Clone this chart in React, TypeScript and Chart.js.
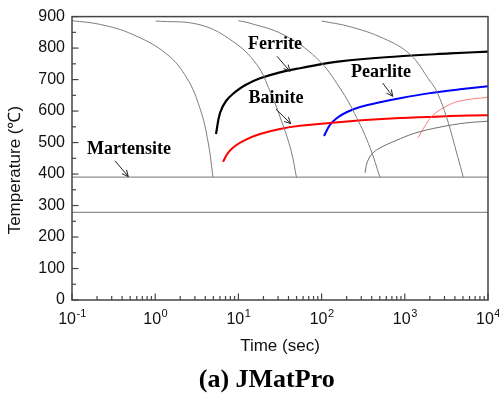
import React, { useEffect, useRef } from 'react';
import { Chart, registerables } from 'chart.js';

Chart.register(...registerables);

// ---- data (time in seconds, temperature in °C) ----
const cool1Time = [0.1, 0.22, 0.54, 1.39, 2.41, 3.45, 4.3, 4.95];
const cool1Temp = [887, 875, 843, 780, 704, 609, 505, 390];
const cool2Time = [1.01, 3.45, 8.6, 16.6, 24, 33, 43, 50];
const cool2Temp = [886, 874, 821, 748, 663, 568, 474, 388];
const cool3Time = [10, 13.8, 34.4, 87.3, 166, 264, 382, 503];
const cool3Temp = [887, 879, 843, 768, 673, 579, 484, 389];
const cool4Time = [100, 219, 552, 1156, 2011, 2416, 3191, 4355, 5050];
const cool4Temp = [886, 868, 831, 780, 695, 663, 579, 452, 389];

const ferriteTime = [5.38, 6.01, 7.1, 9.1, 12.0, 18.2, 31.6, 55, 166, 875, 3491, 10000];
const ferriteTemp = [527, 594, 632, 660, 682, 704, 723, 736, 758, 774, 783, 789];
const bainiteTime = [6.53, 7.5, 9.1, 12.0, 18.2, 31.6, 55, 219, 875, 3491, 10000];
const bainiteTemp = [439, 467, 489, 508, 527, 543, 553, 568, 578, 584, 587];
const pearliteTime = [107, 126, 153, 202, 290, 503, 875, 2011, 4603, 10000];
const pearliteTemp = [521, 556, 578, 597, 613, 628, 641, 657, 669, 679];
const pinkTime = [1442, 1750, 2124, 3041, 4603, 10000];
const pinkTemp = [515, 553, 584, 613, 632, 644];
const lowGrayTime = [333, 352, 404, 503, 762, 1327, 2649, 5297, 10000];
const lowGrayTemp = [404, 436, 464, 483, 505, 530, 549, 562, 568];

const msTime = [0.1, 10000];
const msTemp = [390, 390];
const mfTime = [0.1, 10000];
const mfTemp = [278, 278];

// axis
const xDecades = [0.1, 1, 10, 100, 1000, 10000];
const xExponents = ['-1', '0', '1', '2', '3', '4'];
const yMin = 0;
const yMax = 900;

// annotations
const labelNames = ['Ferrite', 'Bainite', 'Pearlite', 'Martensite'];
const labelTime = [27.5, 28.3, 518, 0.484];
const labelTemp = [811, 641, 723, 477];
const arrowFromTime = [29.1, 28.3, 542, 0.329];
const arrowFromTemp = [774, 606, 689, 442];
const arrowToTime = [41.7, 42.6, 716, 0.475];
const arrowToTemp = [726, 560, 647, 392];

function series(times: number[], temps: number[], color: string, width: number) {
  return {
    data: times.map((t, i) => ({ x: t, y: temps[i] })),
    showLine: true,
    borderColor: color,
    backgroundColor: color,
    borderWidth: width,
    pointRadius: 0,
    pointHoverRadius: 0,
    fill: false,
    tension: 0.4,
  };
}

const decorPlugin = {
  id: 'decor',
  afterDatasetsDraw(chart: any) {
    const { ctx, chartArea: a, scales } = chart;
    const xs = scales.x;
    const ys = scales.y;
    ctx.save();
    const line = (x1: number, y1: number, x2: number, y2: number) => {
      ctx.beginPath();
      ctx.moveTo(x1, y1);
      ctx.lineTo(x2, y2);
      ctx.stroke();
    };
    // frame
    ctx.strokeStyle = '#454545';
    ctx.lineWidth = 1.5;
    ctx.strokeRect(a.left, a.top, a.right - a.left, a.bottom - a.top);
    // y ticks (inward)
    ctx.lineWidth = 1.2;
    for (let v = yMin; v <= yMax; v += 50) {
      const py = ys.getPixelForValue(v);
      const len = v % 100 === 0 ? 6.5 : 4;
      line(a.left, py, a.left + len, py);
    }
    // x ticks (inward)
    xDecades.forEach((d, i) => {
      const px = xs.getPixelForValue(d);
      line(px, a.bottom, px, a.bottom - 6.5);
      if (i < xDecades.length - 1) {
        for (let m = 2; m <= 9; m++) {
          const pm = xs.getPixelForValue(d * m);
          line(pm, a.bottom, pm, a.bottom - 4);
        }
      }
    });
    // x tick labels with superscript exponent
    ctx.fillStyle = '#111';
    ctx.textBaseline = 'alphabetic';
    ctx.textAlign = 'left';
    xDecades.forEach((d, i) => {
      const px = xs.getPixelForValue(d);
      ctx.font = '16px "Liberation Sans", Arial, sans-serif';
      const w1 = ctx.measureText('10').width;
      ctx.font = '11px "Liberation Sans", Arial, sans-serif';
      const w2 = ctx.measureText(xExponents[i]).width;
      const start = px - (w1 + w2) / 2;
      ctx.font = '16px "Liberation Sans", Arial, sans-serif';
      ctx.fillText('10', start, a.bottom + 24);
      ctx.font = '11px "Liberation Sans", Arial, sans-serif';
      ctx.fillText(xExponents[i], start + w1 + 0.5, a.bottom + 16.5);
    });
    // annotations
    ctx.fillStyle = '#000';
    ctx.font = 'bold 18px "Liberation Serif", "Times New Roman", serif';
    ctx.textAlign = 'center';
    ctx.textBaseline = 'middle';
    labelNames.forEach((name, i) => {
      ctx.fillText(name, xs.getPixelForValue(labelTime[i]), ys.getPixelForValue(labelTemp[i]));
    });
    ctx.strokeStyle = '#222';
    ctx.lineWidth = 1;
    labelNames.forEach((_, i) => {
      const x1 = xs.getPixelForValue(arrowFromTime[i]);
      const y1 = ys.getPixelForValue(arrowFromTemp[i]);
      const x2 = xs.getPixelForValue(arrowToTime[i]);
      const y2 = ys.getPixelForValue(arrowToTemp[i]);
      line(x1, y1, x2, y2);
      const ang = Math.atan2(y2 - y1, x2 - x1);
      const hl = 7;
      const spread = 0.45;
      line(x2, y2, x2 - hl * Math.cos(ang - spread), y2 - hl * Math.sin(ang - spread));
      line(x2, y2, x2 - hl * Math.cos(ang + spread), y2 - hl * Math.sin(ang + spread));
    });
    ctx.restore();
  },
};

export default function App() {
  const ref = useRef<HTMLCanvasElement>(null);
  useEffect(() => {
    const canvas = ref.current;
    if (!canvas) return;
    const gray = '#7d7d7d';
    const chart = new Chart(canvas, {
      type: 'scatter',
      data: {
        datasets: [
          series(msTime, msTemp, '#8f8f8f', 1.2),
          series(mfTime, mfTemp, '#8f8f8f', 1.2),
          series(cool1Time, cool1Temp, gray, 1),
          series(cool2Time, cool2Temp, gray, 1),
          series(cool3Time, cool3Temp, gray, 1),
          series(cool4Time, cool4Temp, gray, 1),
          series(lowGrayTime, lowGrayTemp, '#6e6e6e', 1),
          series(pinkTime, pinkTemp, '#ff7f7f', 1),
          series(bainiteTime, bainiteTemp, '#ff0000', 2),
          series(pearliteTime, pearliteTemp, '#0000ff', 2),
          series(ferriteTime, ferriteTemp, '#000000', 2.2),
        ] as any,
      },
      options: {
        responsive: false,
        animation: false,
        devicePixelRatio: 1,
        layout: { padding: { top: 15, right: 11, left: 0, bottom: 0 } },
        plugins: {
          legend: { display: false },
          tooltip: { enabled: false },
          title: {
            display: true,
            position: 'bottom',
            text: '       (a) JMatPro',
            color: '#000',
            font: { family: '"Liberation Serif", "Times New Roman", serif', size: 26, weight: 'bold', lineHeight: 1 },
            padding: { top: 10, bottom: 0 },
          },
        },
        scales: {
          x: {
            type: 'logarithmic',
            min: 0.1,
            max: 10000,
            grid: { display: false, drawTicks: false },
            border: { display: false },
            ticks: { display: false },
            title: {
              display: true,
              text: 'Time (sec)',
              color: '#111',
              font: { family: '"Liberation Sans", Arial, sans-serif', size: 17 },
              padding: { top: 0, bottom: 0 },
            },
            afterFit: (s: any) => {
              s.height = 57;
            },
          },
          y: {
            min: yMin,
            max: yMax,
            grid: { display: false, drawTicks: false },
            border: { display: false },
            ticks: {
              stepSize: 100,
              color: '#111',
              padding: 7,
              font: { family: '"Liberation Sans", Arial, sans-serif', size: 16 },
            },
            title: {
              display: true,
              text: 'Temperature (℃)     ',
              color: '#111',
              font: { family: '"Liberation Sans", Arial, sans-serif', size: 17 },
              padding: { top: 5, bottom: 0 },
            },
            afterFit: (s: any) => {
              s.width = 72;
            },
          },
        },
      } as any,
      plugins: [decorPlugin],
    });
    return () => chart.destroy();
  }, []);
  return (
    <div style={{ position: 'fixed', left: 0, top: 0, width: 499, height: 393, background: '#fff' }}>
      <canvas ref={ref} width={499} height={393} style={{ display: 'block', width: 499, height: 393 }} />
    </div>
  );
}
